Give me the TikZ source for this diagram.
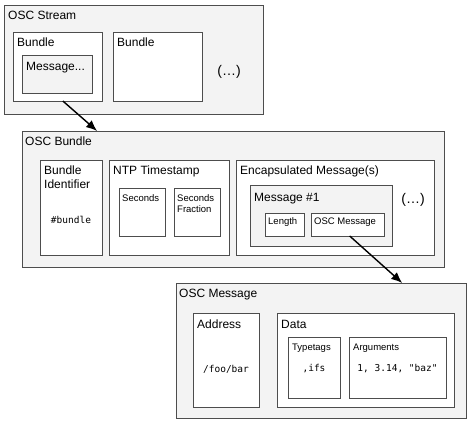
\documentclass[tikz,border=0pt]{standalone}
\usepackage{fontspec}
\setmainfont{Liberation Sans}
\setmonofont{DejaVu Sans Mono}
\usetikzlibrary{arrows.meta, calc}
\definecolor{oscLine}{HTML}{4D4D4D}
\definecolor{oscFill}{HTML}{F3F3F3}

\begin{document}
\begin{tikzpicture}[x=1pt, y=-1pt,
  box/.style={draw=oscLine, line width=0.9pt, anchor=north west, inner sep=0pt, outer sep=0pt},
  outerbox/.style={box, fill=oscFill},
  innerbox/.style={box, fill=white},
  title/.style={anchor=base west, inner sep=0pt, font=\fontsize{12}{14}\selectfont, align=left},
  small/.style={anchor=base west, inner sep=0pt, font=\fontsize{9.5}{11}\selectfont, align=left},
  code/.style={inner sep=0pt, font=\ttfamily\fontsize{9.5}{11}\selectfont},
  more/.style={inner sep=0pt, font=\fontsize{14}{16}\selectfont},
  link/.style={-{Latex[length=11pt, width=9pt]}, line width=1.4pt}]
        \useasboundingbox (0,0) rectangle (474,425);

        % OSC Stream
        \node[outerbox, minimum width=259, minimum height=109] (stream) at (4,5) {};
        \node[title] (streamT) at ($(stream.north west)+(4,15)$) {OSC Stream};
        \node[innerbox, minimum width=89, minimum height=69] (bundleA) at (13,32) {};
        \node[title] (bundleAT) at ($(bundleA.north west)+(4,15)$) {Bundle};
        \node[outerbox, minimum width=70, minimum height=38] (msgA) at (22,55) {};
        \node[title] (msgAT) at ($(msgA.north west)+(4,15.5)$) {Message...};
        \node[innerbox, minimum width=89, minimum height=69] (bundleB) at (113,32) {};
        \node[title] (bundleBT) at ($(bundleB.north west)+(4,15)$) {Bundle};
        \node[more] (streamMore) at (229,72) {(…)};

        % OSC Bundle
        \node[outerbox, minimum width=422, minimum height=136] (oscBundle) at (22,131) {};
        \node[title] (oscBundleT) at ($(oscBundle.north west)+(3,15)$) {OSC Bundle};
        \node[innerbox, minimum width=62, minimum height=95] (ident) at (40,160) {};
        \node[title] (identT) at ($(ident.north west)+(4,29)$) {Bundle\\Identifier};
        \node[code] (identV) at ($(ident.center)+(0,12)$) {\#bundle};
        \node[innerbox, minimum width=120, minimum height=95] (ntp) at (109,160) {};
        \node[title] (ntpT) at ($(ntp.north west)+(4,15)$) {NTP Timestamp};
        \node[innerbox, minimum width=46, minimum height=48] (secs) at (119,188) {};
        \node[small] (secsT) at ($(secs.north west)+(3,13)$) {Seconds};
        \node[innerbox, minimum width=46, minimum height=48] (frac) at (174,188) {};
        \node[small] (fracT) at ($(frac.north west)+(3,24)$) {Seconds\\Fraction};
        \node[innerbox, minimum width=198, minimum height=95] (encap) at (236,160) {};
        \node[title] (encapT) at ($(encap.north west)+(4,15)$) {Encapsulated Message(s)};
        \node[outerbox, minimum width=142, minimum height=61] (msgOne) at (250,185) {};
        \node[title] (msgOneT) at ($(msgOne.north west)+(4,16)$) {Message \#1};
        \node[innerbox, minimum width=39, minimum height=23] (len) at (265,213) {};
        \node[small] (lenT) at ($(len.north west)+(3,11)$) {Length};
        \node[innerbox, minimum width=73, minimum height=23] (msgRef) at (311,213) {};
        \node[small] (msgRefT) at ($(msgRef.north west)+(3,11)$) {OSC Message};
        \node[more] (bundleMore) at (413,200) {(…)};

        % OSC Message
        \node[outerbox, minimum width=290, minimum height=135] (oscMsg) at (176,283) {};
        \node[title] (oscMsgT) at ($(oscMsg.north west)+(3,14)$) {OSC Message};
        \node[innerbox, minimum width=66, minimum height=94] (address) at (193,313) {};
        \node[title] (addressT) at ($(address.north west)+(4,15)$) {Address};
        \node[code] (addressV) at ($(address.center)+(0,9)$) {/foo/bar};
        \node[innerbox, minimum width=177, minimum height=94] (data) at (277,313) {};
        \node[title] (dataT) at ($(data.north west)+(4,15)$) {Data};
        \node[innerbox, minimum width=52, minimum height=61] (tags) at (288,337) {};
        \node[small] (tagsT) at ($(tags.north west)+(4,13)$) {Typetags};
        \node[code] (tagsV) at ($(tags.center)+(0,1.5)$) {,ifs};
        \node[innerbox, minimum width=97, minimum height=61] (args) at (349,337) {};
        \node[small] (argsT) at ($(args.north west)+(4,13)$) {Arguments};
        \node[code] (argsV) at ($(args.center)+(0,1.5)$) {1, 3.14, "baz"};

        % links
        \draw[link] ($(bundleA.south west)!0.56!(bundleA.south east)$) -- ($(oscBundle.north west)!0.178!(oscBundle.north east)$);
        \draw[link] ($(msgRef.south west)!0.53!(msgRef.south east)$) -- ($(oscMsg.north west)!0.78!(oscMsg.north east)$);
      \end{tikzpicture}
\end{document}
